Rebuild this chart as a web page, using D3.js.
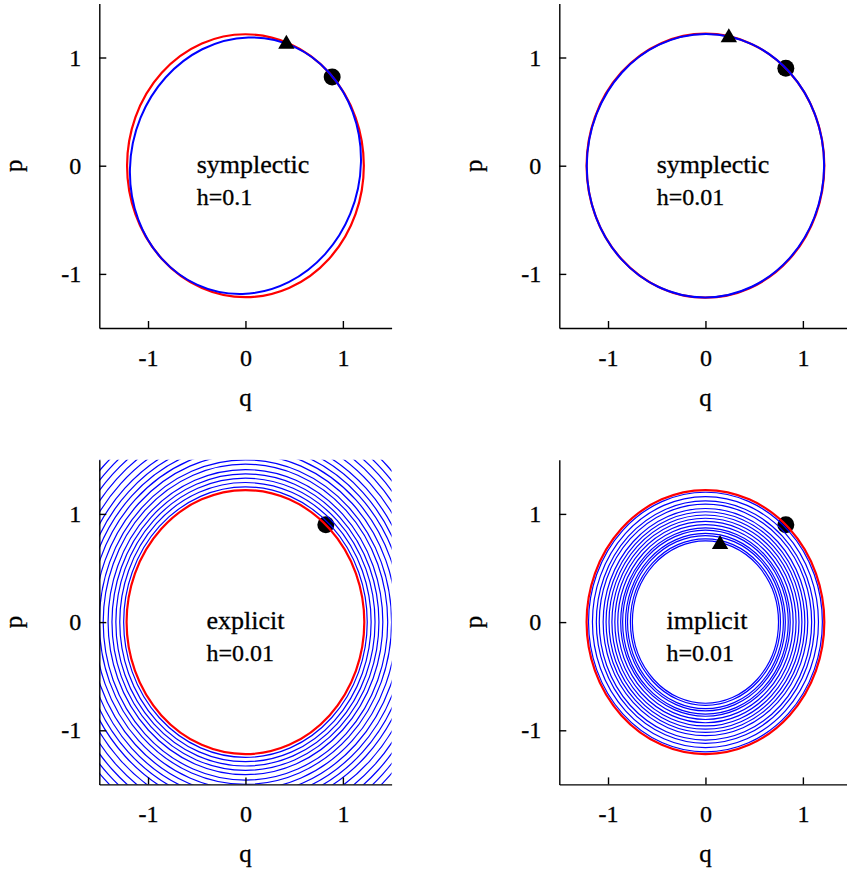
<!DOCTYPE html>
<html>
<head>
<meta charset="utf-8">
<script src="https://cdn.jsdelivr.net/npm/d3@7/dist/d3.min.js"></script>
<style>
  html, body { margin: 0; padding: 0; background: #fff; }
  svg { display: block; }
  .serif { font-family: "Liberation Serif", "Times New Roman", serif; fill: #000; stroke: #000; stroke-width: 0.3px; }
</style>
</head>
<body>
<svg id="chart" width="847" height="874"></svg>
<script>
// Harmonic oscillator phase portraits: exact orbit (red) vs. numerical orbits (blue).

// Axis settings
const qDomain = [-1.5, 1.5];
const pDomain = [-1.5, 1.5];
const tickValues = [-1, 0, 1];
const tickLabels = ["-1", "0", "1"];

// Panel titles
const methodNames = ["symplectic", "symplectic", "explicit", "implicit"];
const stepLabels = ["h=0.1", "h=0.01", "h=0.01", "h=0.01"];
const titleAnchorQ = [-0.5, -0.5, -0.4, -0.4];

// Start points (q, p) and end points of each run
const startQ = [0.89, 0.825, 0.825, 0.825];
const startP = [0.82, 0.90, 0.90, 0.90];
const endQ = [0.42, 0.24, null, 0.15];
const endP = [1.14, 1.20, null, 0.735];

// Radius of the exact orbit in each panel
const exactRadius = [1.215, 1.22, 1.22, 1.22];

// Symplectic orbits: semi-axes along q=p and along q=-p
const symplecticMajor = [1.215, 1.221];
const symplecticMinor = [1.156, 1.215];

// Explicit Euler: turns of the outward spiral
const explicitTurns = [1.25, 1.29, 1.33, 1.37, 1.41, 1.46, 1.50, 1.55, 1.60,
                       1.65, 1.70, 1.75, 1.81, 1.87, 1.93, 1.99, 2.05];
// last half turn (radius, start angle, end angle in degrees)
const explicitLastTurn = [2.12, 90, 270];

// Implicit Euler: turns of the inward spiral
const implicitTurns = [1.20, 1.16, 1.12, 1.09, 1.05, 1.02, 0.99, 0.96, 0.93,
                       0.90, 0.87, 0.85, 0.82, 0.80, 0.77, 0.75];

const svg = d3.select("#chart");

const panelW = 292.3, panelH = 324.6;
const panels = [
  { left: 99.3, top: 3.4 },
  { left: 559.3, top: 3.4 },
  { left: 99.3, top: 459.8 },
  { left: 559.3, top: 459.8 }
];

const RED = "#ff0000", BLUE = "#0000ff";

panels.forEach((pn, i) => {
  const x = d3.scaleLinear().domain(qDomain).range([pn.left, pn.left + panelW]);
  const y = d3.scaleLinear().domain(pDomain).range([pn.top + panelH, pn.top]);

  const g = svg.append("g");

  const clipId = "clip" + i;
  g.append("clipPath").attr("id", clipId)
    .append("rect")
    .attr("x", x(qDomain[0])).attr("y", y(pDomain[1]))
    .attr("width", x(qDomain[1]) - x(qDomain[0]))
    .attr("height", y(pDomain[0]) - y(pDomain[1]));

  const plot = g.append("g").attr("clip-path", `url(#${clipId})`);

  // group working in data units (q right, p up)
  const dataFrame = () => plot.append("g")
    .attr("transform", `translate(${x(0)},${y(0)}) scale(${x(1) - x(0)},${y(1) - y(0)})`);

  // start point
  plot.append("circle")
    .attr("cx", x(startQ[i])).attr("cy", y(startP[i]))
    .attr("r", 8.5).attr("fill", "#000");

  // exact orbit
  dataFrame().append("ellipse")
    .attr("rx", exactRadius[i]).attr("ry", exactRadius[i])
    .attr("fill", "none").attr("stroke", RED).attr("stroke-width", 2.2)
    .attr("vector-effect", "non-scaling-stroke");

  // numerical orbit
  if (i < 2) {
    dataFrame().append("g").attr("transform", "rotate(45)")
      .append("ellipse")
      .attr("rx", symplecticMajor[i]).attr("ry", symplecticMinor[i])
      .attr("fill", "none").attr("stroke", BLUE).attr("stroke-width", 2)
      .attr("vector-effect", "non-scaling-stroke");
  } else {
    const turns = i === 2 ? explicitTurns : implicitTurns;
    const f = dataFrame();
    f.selectAll("ellipse.turn").data(turns).join("ellipse")
      .attr("class", "turn")
      .attr("rx", d => d).attr("ry", d => d)
      .attr("fill", "none").attr("stroke", BLUE).attr("stroke-width", 1.2)
      .attr("vector-effect", "non-scaling-stroke");
    if (i === 2) {
      const [r, a0, a1] = explicitLastTurn;
      const path = d3.path();
      path.arc(0, 0, r, a0 * Math.PI / 180, a1 * Math.PI / 180);
      f.append("path").attr("d", path.toString())
        .attr("fill", "none").attr("stroke", BLUE).attr("stroke-width", 1.2)
        .attr("vector-effect", "non-scaling-stroke");
    }
  }

  // end point
  if (endQ[i] !== null) {
    const cx = x(endQ[i]), cy = y(endP[i]);
    plot.append("path")
      .attr("d", `M${cx},${cy - 7.5} L${cx + 8.2},${cy + 6.5} L${cx - 8.2},${cy + 6.5} Z`)
      .attr("fill", "#000");
  }

  // axes
  const ax = g.append("g").attr("transform", `translate(0,${y(pDomain[0])})`)
    .call(d3.axisBottom(x).tickValues(tickValues).tickFormat((d, k) => tickLabels[k])
      .tickSize(-7).tickSizeOuter(0).tickPadding(20.5));
  const ay = g.append("g").attr("transform", `translate(${x(qDomain[0])},0)`)
    .call(d3.axisLeft(y).tickValues(tickValues).tickFormat((d, k) => tickLabels[k])
      .tickSize(-7).tickSizeOuter(0).tickPadding(18));
  [ax, ay].forEach(a => {
    a.attr("font-family", null).attr("font-size", null);
    a.selectAll("path.domain").attr("stroke", "#000").attr("stroke-width", 1.4);
    a.selectAll(".tick line").attr("stroke", "#000").attr("stroke-width", 1.4);
    a.selectAll(".tick text").attr("class", "serif").attr("font-size", 24).attr("fill", "#000");
  });

  // axis titles
  g.append("text").attr("class", "serif")
    .attr("x", (x(qDomain[0]) + x(qDomain[1])) / 2).attr("y", y(pDomain[0]) + 78)
    .attr("text-anchor", "middle").attr("font-size", 25).text("q");
  const py = (y(pDomain[0]) + y(pDomain[1])) / 2;
  g.append("text").attr("class", "serif")
    .attr("transform", `translate(${x(qDomain[0]) - 77},${py}) rotate(-90)`)
    .attr("text-anchor", "middle").attr("font-size", 25).text("p");

  // panel titles
  g.append("text").attr("class", "serif")
    .attr("x", x(titleAnchorQ[i])).attr("y", y(0)).attr("dy", "0.28em")
    .attr("font-size", 26).text(methodNames[i]);
  g.append("text").attr("class", "serif")
    .attr("x", x(titleAnchorQ[i])).attr("y", y(-0.3)).attr("dy", "0.28em")
    .attr("font-size", 24).text(stepLabels[i]);
});
</script>
</body>
</html>
